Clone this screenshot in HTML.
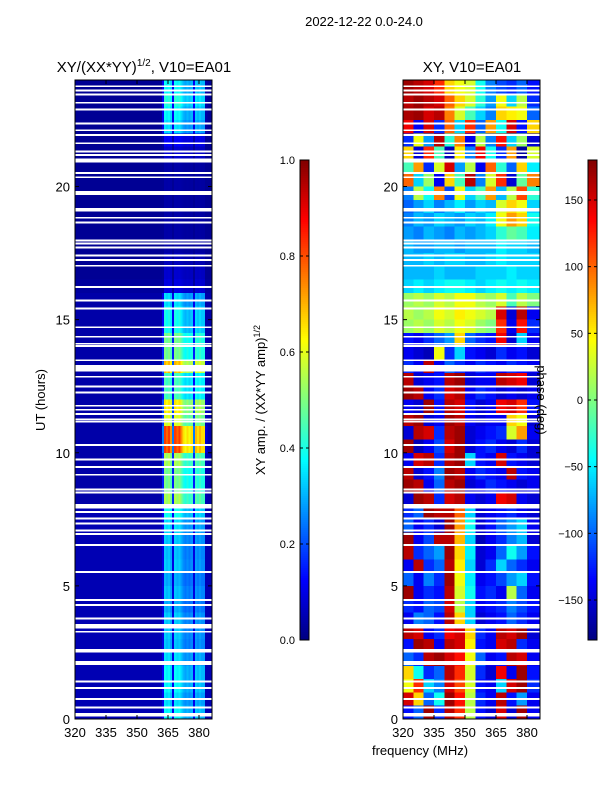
<!DOCTYPE html>
<html><head><meta charset="utf-8"><style>
html,body{margin:0;padding:0;background:#fff;}
svg{display:block;font-family:"Liberation Sans","DejaVu Sans",sans-serif;}
</style></head><body>
<svg id="fig" width="600" height="800" viewBox="0 0 600 800" xmlns="http://www.w3.org/2000/svg">
<rect x="0" y="0" width="600" height="800" fill="#fff"/>
<text x="364" y="26" font-size="13" text-anchor="middle">2022-12-22 0.0-24.0</text>
<text x="144" y="72" font-size="15" text-anchor="middle">XY/(XX*YY)<tspan font-size="10" dy="-6">1/2</tspan><tspan dy="6">, V10=EA01</tspan></text>
<text x="472" y="72" font-size="15" text-anchor="middle">XY, V10=EA01</text>
<text transform="translate(45,400) rotate(-90)" font-size="13" text-anchor="middle">UT (hours)</text>
<text x="420" y="755" font-size="13" text-anchor="middle">frequency (MHz)</text>
<text transform="translate(265,400) rotate(-90)" font-size="13" text-anchor="middle">XY amp. / (XX*YY amp)<tspan font-size="9" dy="-5">1/2</tspan></text>
<g id="left"></g>
<g id="right"></g>
<g id="axes"></g>
<text transform="translate(537,400) rotate(90)" font-size="13" text-anchor="middle">phase (deg)</text>
</svg>
<script>
// ---- data ----
const ampRowsHours = [24,23.5,23,22.5,22,21.5,21,20.5,20,19.5,19,18.5,18,17.5,17,16.5,16,15.5,15,14.5,14,13.5,13,12.5,12,11.5,11,10.5,10,9.5,9,8.5,8,7.5,7,6.5,6,5.5,5,4.5,4,3.5,3,2.5,2,1.5,1,0.5];
const bandAmp = [0.38,0.42,0.38,0.35,0.12,0.08,0.04,0.04,0.04,0.04,0.04,0.04,0.04,0.06,0.08,0.1,0.35,0.4,0.4,0.5,0.5,0.7,0.45,0.45,0.65,0.6,0.82,0.82,0.55,0.5,0.5,0.55,0.4,0.35,0.33,0.32,0.33,0.3,0.32,0.3,0.33,0.33,0.32,0.35,0.38,0.38,0.35,0.38];
const bgAmp = [0.02,0.02,0.02,0.02,0.02,0.02,0.02,0.02,0.02,0.02,0.02,0.02,0.02,0.02,0.02,0.03,0.04,0.04,0.04,0.04,0.04,0.04,0.04,0.04,0.04,0.04,0.04,0.04,0.04,0.04,0.04,0.04,0.05,0.05,0.05,0.05,0.05,0.05,0.05,0.05,0.05,0.05,0.05,0.05,0.05,0.05,0.05,0.05];
const bandChannels = [362,363,364,365,366,367,368,369,370,371,372,373,374,375,376,377,378,379,380,381,382,383,384,385];
const bandFactor = [0.3,1,0.95,1,0.9,0.3,1,0.95,1,0.9,0.8,0.75,0.8,0.75,0.8,0.3,0.85,0.8,0.85,0.8,0.8,0.1,0.05,0.05];
const phaseCols = [320,325,330,335,340,345,350,355,360,365,370,375,380];
const phase = [
[170,160,150,120,60,40,30,-40,-90,-110,-120,-100,-130],
[160,170,160,150,100,60,30,-30,-80,40,-60,20,-120],
[165,170,150,160,90,30,-20,-60,-90,60,50,40,-100],
[140,-140,150,-120,100,-60,120,-100,80,-40,150,-130,60],
[-120,40,-80,160,-30,90,-140,20,-90,130,-60,10,-150],
[60,-150,120,-20,-160,50,-90,140,-40,-120,80,-170,30],
[-20,80,-120,30,150,-80,20,-140,100,-30,-100,60,-50],
[100,-60,10,-140,60,-20,160,-90,30,120,-150,-10,90],
[-90,20,-40,90,-110,40,-60,-20,80,-70,20,110,-30],
[-100,-80,-60,-90,-70,-50,-80,-60,-70,30,60,40,-60],
[-90,-70,-80,-60,-70,-80,-60,-70,-50,40,80,60,-40],
[-80,-90,-70,-80,-90,-70,-80,-70,-60,-30,-10,-20,-50],
[-70,-80,-80,-70,-70,-80,-70,-70,-70,-50,-60,-60,-70],
[-70,-70,-60,-70,-60,-60,-70,-70,-60,-50,-60,-60,-60],
[-70,-70,-70,-60,-70,-70,-70,-60,-60,-60,-50,-60,-60],
[-60,-50,-60,-50,-40,-40,-50,-60,-50,-40,-50,-40,-50],
[10,20,10,30,20,40,40,20,10,30,-20,20,0],
[20,10,20,40,30,50,40,30,20,150,-150,160,-140],
[10,20,10,30,20,40,30,10,0,120,-140,130,-120],
[-130,-140,-120,-100,-80,60,-100,-120,-130,140,-150,-60,-140],
[-140,-150,-160,40,-120,-60,-130,-140,-150,-120,-140,-130,-150],
[-120,-140,160,-140,-100,-120,-140,-120,-130,-140,-120,-130,-140],
[160,-150,-140,-130,160,170,-150,-140,-140,160,150,140,-150],
[170,160,-140,-120,150,160,-140,-120,-130,-150,-140,-150,-140],
[-140,-150,170,-130,160,150,-130,-150,-140,140,150,120,-130],
[160,170,-150,-140,170,160,-140,-150,-140,-140,60,40,-150],
[-150,160,150,-120,160,170,-150,-140,-130,-120,30,80,-140],
[170,-160,-140,-110,150,170,-150,-130,-120,-140,-150,-120,-150],
[-140,150,160,-120,160,170,-60,-130,-140,150,-130,-140,-150],
[160,-150,-130,-90,170,160,-140,-120,-130,-140,160,-130,-140],
[170,160,-140,-100,160,170,-150,-140,-120,-130,-140,-150,-140],
[-150,170,160,-120,150,160,-140,-150,-140,140,150,-140,-150],
[-120,-100,170,160,160,100,-60,-150,-140,-130,-120,-140,-150],
[-100,-140,-120,-150,170,80,-40,-150,-130,-100,-80,-60,-140],
[170,-140,-110,160,160,70,-60,-160,-140,-120,-90,-70,-150],
[160,-120,-100,-80,170,60,-50,-150,-140,-100,-40,-80,-130],
[-140,160,-120,-100,160,50,-60,-150,-120,-60,-100,-120,-140],
[-100,-140,-90,-120,170,40,-50,-140,-130,-110,-80,-60,-130],
[170,-140,-120,-130,160,30,-40,-130,-120,-140,20,-100,-140],
[-120,-130,-100,-110,150,20,-60,-140,-130,-120,-90,-110,-130],
[-140,-90,-100,-130,160,60,-60,-150,-140,-130,-100,-120,-140],
[160,150,-140,-120,140,150,60,-120,-140,160,150,170,-150],
[-130,170,160,-140,160,150,50,-130,-140,150,160,-120,-140],
[-100,-120,160,170,150,130,40,-100,-140,-130,160,150,-140],
[60,-40,-120,-100,160,120,30,-120,-150,140,-140,170,-130],
[40,120,-60,-90,150,110,30,-130,-140,-60,150,170,-120],
[150,60,-100,-40,170,130,20,-120,-140,160,-130,-80,-140],
[-130,-100,170,-120,160,120,20,-130,-150,150,-150,170,-140]];
const flagStart = [23.73,23.57,23.42,23.11,22.86,22.33,22.08,21.90,21.59,21.28,21.15,20.90,20.47,20.31,19.69,19.07,18.79,18.61,17.94,17.83,17.68,17.37,17.21,16.99,16.19,15.69,15.38,14.68,14.32,14.06,13.98,13.44,13.05,12.82,12.46,12.23,11.73,11.58,11.42,11.22,11.13,10.26,9.71,9.43,9.14,8.58,8.47,7.90,7.74,7.49,7.31,7.04,6.92,6.50,5.49,4.44,4.25,3.74,3.40,3.24,2.50,2.11,2.03,1.38,1.13,0.71,0.40,0.09];
const flagLen   = [0.07,0.07,0.07,0.07,0.07,0.07,0.07,0.07,0.07,0.07,0.07,0.15,0.07,0.07,0.15,0.12,0.07,0.07,0.07,0.07,0.07,0.07,0.07,0.07,0.07,0.07,0.07,0.07,0.07,0.07,0.07,0.07,0.25,0.07,0.07,0.07,0.07,0.07,0.07,0.07,0.07,0.07,0.07,0.07,0.07,0.07,0.07,0.18,0.07,0.07,0.07,0.07,0.07,0.07,0.07,0.07,0.07,0.07,0.17,0.07,0.12,0.07,0.07,0.07,0.07,0.07,0.07,0.13];
const hourTicks = [0,5,10,15,20];
const freqTicks = [320,335,350,365,380];
const ampTicks = [0.0,0.2,0.4,0.6,0.8,1.0];
const phaseTicks = [-150,-100,-50,0,50,100,150];

// ---- scales ----
const NS = "http://www.w3.org/2000/svg";
const fPx = 2.0667, hPx = 26.625;
function xL(f){return 75 + (f-320)*fPx;}
function xR(f){return 403 + (f-320)*fPx;}
function yH(h){return 719 - h*hPx;}
function jet(v){
  v = Math.max(0,Math.min(1,v));
  const r = Math.max(0,Math.min(1, Math.min(4*v-1.5, -4*v+4.5)));
  const g = Math.max(0,Math.min(1, Math.min(4*v-0.5, -4*v+3.5)));
  const b = Math.max(0,Math.min(1, Math.min(4*v+0.5, -4*v+2.5)));
  return "rgb("+Math.round(r*255)+","+Math.round(g*255)+","+Math.round(b*255)+")";
}
function mk(tag, attrs, parent){
  const e = document.createElementNS(NS, tag);
  for (const k in attrs) e.setAttribute(k, attrs[k]);
  parent.appendChild(e); return e;
}
const L = document.getElementById('left'), R = document.getElementById('right'), A = document.getElementById('axes');
L.setAttribute('shape-rendering','crispEdges'); R.setAttribute('shape-rendering','crispEdges');

for (let i=0;i<ampRowsHours.length;i++){
  const h1 = ampRowsHours[i], h0 = h1-0.5;
  const y1 = yH(h1), y0 = yH(h0);
  const bg = mk('rect',{x:xL(320),y:y1,width:xL(386)-xL(320),height:y0-y1+0.3,fill:jet(bgAmp[i])},L);
  
  
  for (let c=0;c<bandChannels.length;c++){
    const v = Math.max(bgAmp[i], bandAmp[i]*bandFactor[c]);
    const cell = mk('rect',{x:xL(bandChannels[c]),y:y1,width:fPx+0.3,height:y0-y1+0.3,fill:jet(v)},L);
    
    
  }
}
for (let i=0;i<phase.length;i++){
  const h1 = ampRowsHours[i], h0 = h1-0.5;
  for (let c=0;c<phaseCols.length;c++){
    const f0 = phaseCols[c], f1 = c<phaseCols.length-1 ? phaseCols[c+1] : 386;
    const cell = mk('rect',{x:xR(f0),y:yH(h1),width:xR(f1)-xR(f0)+0.3,height:yH(h0)-yH(h1)+0.3,fill:jet((phase[i][c]+180)/360)},R);
    
    
  }
}
for (let k=0;k<flagStart.length;k++){
  const ya = yH(flagStart[k]+flagLen[k]), yb = yH(flagStart[k]);
  const fl = mk('rect',{x:xL(320),y:ya,width:xL(386)-xL(320),height:Math.max(1.5,yb-ya),fill:'#fff'},L);
  
  
  const fr = mk('rect',{x:xR(320),y:ya,width:xR(386)-xR(320),height:Math.max(1.5,yb-ya),fill:'#fff'},R);
  
  
}
[[75,'left'],[403,'right']].forEach(([x0,nm])=>{
  const fr = mk('rect',{x:x0,y:80,width:137,height:639,fill:'none',stroke:'#000','stroke-width':1},A);
  
  
  hourTicks.forEach(h=>{
    const y = yH(h);
    mk('line',{x1:x0,y1:y,x2:x0+4,y2:y,stroke:'#000'},A);
    mk('line',{x1:x0+137,y1:y,x2:x0+133,y2:y,stroke:'#000'},A);
    const t = mk('text',{x:x0-5,y:y+5,'font-size':13,'text-anchor':'end'},A);
    t.textContent = h;
    
    
  });
  freqTicks.forEach(f=>{
    const x = x0 + (f-320)*fPx;
    mk('line',{x1:x,y1:719,x2:x,y2:715,stroke:'#000'},A);
    mk('line',{x1:x,y1:80,x2:x,y2:84,stroke:'#000'},A);
    const t = mk('text',{x:x,y:737,'font-size':13,'text-anchor':'middle'},A);
    t.textContent = f;
    
    
  });
});
function colorbar(x0, nm, ticks, toFrac, fmt){
  const g = mk('g',{'shape-rendering':'crispEdges'},A);
  
  
  for (let p=0;p<480;p+=2){
    mk('rect',{x:x0,y:640-p-2,width:9,height:2.2,fill:jet((p+1)/480)},g);
  }
  mk('rect',{x:x0,y:160,width:9,height:480,fill:'none',stroke:'#000','stroke-width':1},A);
  ticks.forEach(v=>{
    const y = 640 - toFrac(v)*480;
    mk('line',{x1:x0,y1:y,x2:x0+3,y2:y,stroke:'#000'},A);
    mk('line',{x1:x0+9,y1:y,x2:x0+6,y2:y,stroke:'#000'},A);
    const t = mk('text',{x:x0-5,y:y+4,'font-size':11,'text-anchor':'end'},A);
    t.textContent = fmt(v);
    
    
  });
}
colorbar(300,'amp-colorbar',ampTicks,v=>v,v=>v.toFixed(1));
colorbar(588,'phase-colorbar',phaseTicks,v=>(v+180)/360,v=>(v<0?'\u2212'+(-v):''+v));
</script>
</body></html>
